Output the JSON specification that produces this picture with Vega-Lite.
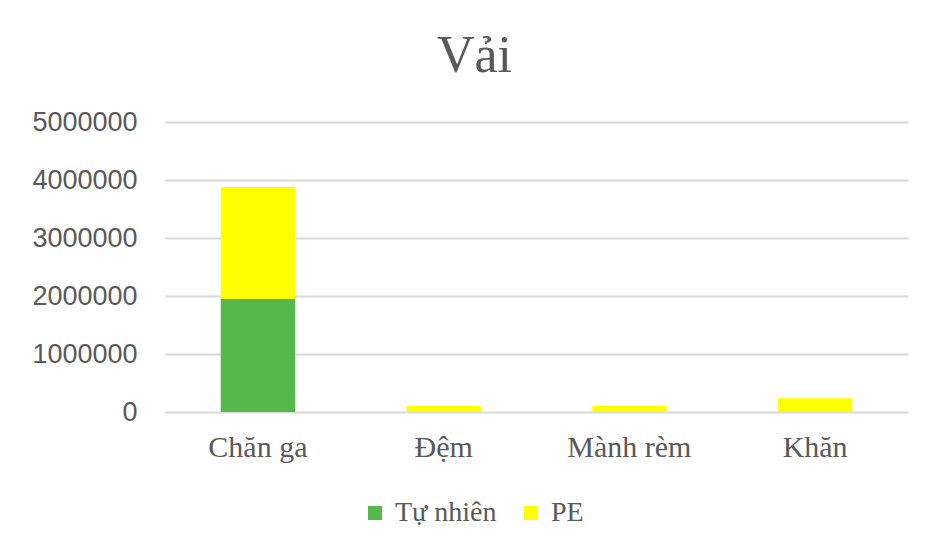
{
  "$schema": "https://vega.github.io/schema/vega-lite/v6.json",
  "autosize": "none",
  "width": 743,
  "height": 290,
  "padding": {"left": 165, "top": 122, "right": 20, "bottom": 136},
  "background": "white",
  "title": {
    "text": "Vải",
    "font": "Liberation Serif",
    "fontSize": 52,
    "fontWeight": "normal",
    "color": "#595959",
    "anchor": "middle",
    "frame": "group",
    "dx": -62,
    "offset": 25
  },
  "data": {
    "values": [
      {"category": "Chăn ga", "series": "Tự nhiên", "value": 1950000},
      {"category": "Chăn ga", "series": "PE", "value": 1930000},
      {"category": "Đệm", "series": "Tự nhiên", "value": 0},
      {"category": "Đệm", "series": "PE", "value": 103000},
      {"category": "Mành rèm", "series": "Tự nhiên", "value": 0},
      {"category": "Mành rèm", "series": "PE", "value": 103000},
      {"category": "Khăn", "series": "Tự nhiên", "value": 0},
      {"category": "Khăn", "series": "PE", "value": 236000}
    ]
  },
  "mark": {"type": "bar"},
  "encoding": {
    "x": {
      "field": "category",
      "type": "nominal",
      "sort": ["Chăn ga", "Đệm", "Mành rèm", "Khăn"],
      "scale": {"paddingInner": 0.6, "paddingOuter": 0.3},
      "axis": {
        "title": null,
        "labelAngle": 0,
        "labelFont": "Liberation Serif",
        "labelFontSize": 30,
        "labelColor": "#595959",
        "labelPadding": 20,
        "ticks": false,
        "domain": false,
        "grid": false
      }
    },
    "y": {
      "field": "value",
      "type": "quantitative",
      "stack": "zero",
      "scale": {"domain": [0, 5000000], "nice": false},
      "axis": {
        "title": null,
        "values": [0, 1000000, 2000000, 3000000, 4000000, 5000000],
        "format": "d",
        "labelFont": "Liberation Sans",
        "labelFontSize": 27,
        "labelColor": "#595959",
        "labelPadding": 28,
        "ticks": false,
        "domain": false,
        "grid": true,
        "gridColor": "#d9d9d9",
        "gridWidth": 2
      }
    },
    "color": {
      "field": "series",
      "type": "nominal",
      "scale": {"domain": ["Tự nhiên", "PE"], "range": ["#55B84A", "#FFFF00"]},
      "legend": {
        "title": null,
        "orient": "none",
        "legendX": 196,
        "legendY": 377,
        "direction": "horizontal",
        "columns": 2,
        "symbolType": "square",
        "symbolSize": 196,
        "symbolStrokeWidth": 0,
        "labelFont": "Liberation Serif",
        "labelFontSize": 28,
        "labelColor": "#595959",
        "labelOffset": 6,
        "columnPadding": 20,
        "labelLimit": 300
      }
    },
    "order": {"field": "series", "sort": "descending"}
  },
  "config": {
    "view": {"stroke": null}
  }
}
